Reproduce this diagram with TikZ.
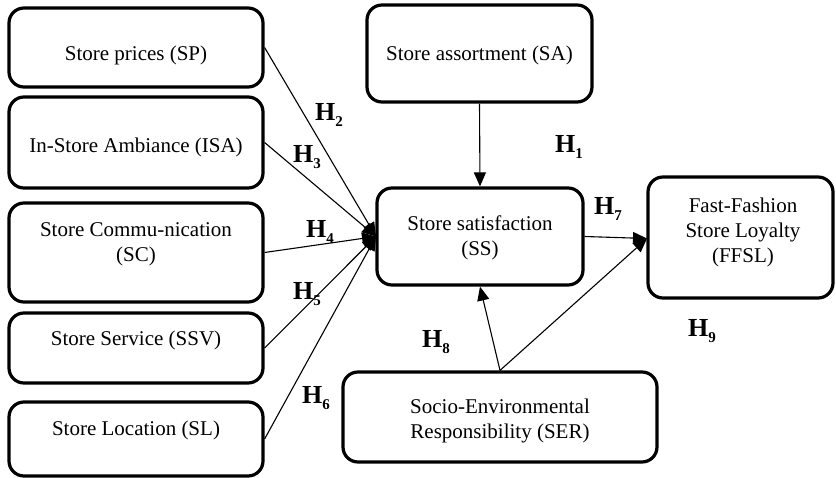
\documentclass[tikz,border=0pt]{standalone}
\usepackage{fontspec}
\setmainfont{Liberation Serif}
\usetikzlibrary{arrows.meta}
\newcommand{\Hyp}[1]{\textbf{H\raisebox{-0.5ex}{\fontsize{15}{15}\selectfont #1}}}
\tikzset{
  boxnode/.style={draw, line width=3.2pt, rounded corners=15pt, inner sep=0pt},
  txt/.style={font=\fontsize{21}{25}\selectfont, align=center, inner sep=0pt},
  hlab/.style={font=\fontsize{26}{26}\selectfont, inner sep=0pt},
  conn/.style={line width=1.1pt, -{Triangle[length=14pt, width=12pt]}},
}
\begin{document}
\begin{tikzpicture}[x=1pt,y=-1pt]
\useasboundingbox (0,0) rectangle (836,478);
% boxes
\node[boxnode, minimum width=254pt, minimum height=79pt] (sp) at (136,47.5) {};
\node[boxnode, minimum width=254pt, minimum height=91pt] (isa) at (136,142.5) {};
\node[boxnode, minimum width=254pt, minimum height=99pt] (sc) at (136,252.5) {};
\node[boxnode, minimum width=254pt, minimum height=70pt] (ssv) at (136,348) {};
\node[boxnode, minimum width=254pt, minimum height=74pt] (sl) at (136,439) {};
\node[boxnode, minimum width=225pt, minimum height=97pt] (sa) at (479.5,53.5) {};
\node[boxnode, minimum width=206pt, minimum height=97pt] (ss) at (480,236.5) {};
\node[boxnode, minimum width=185pt, minimum height=121pt] (ffsl) at (740.5,237.5) {};
\node[boxnode, minimum width=314pt, minimum height=90pt] (ser) at (500,417) {};
% texts
\node[txt] (tsp) at (136,55) {Store prices (SP)};
\node[txt] (tisa) at (136,147) {In-Store Ambiance (ISA)};
\node[txt] (tsc) at (136,244) {Store Commu-nication\\(SC)};
\node[txt] (tssv) at (136,340) {Store Service (SSV)};
\node[txt] (tsl) at (136,430) {Store Location (SL)};
\node[txt] (tsa) at (479.5,55) {Store assortment (SA)};
\node[txt] (tss) at (480,238) {Store satisfaction\\(SS)};
\node[txt] (tffsl) at (743,232) {Fast-Fashion\\Store Loyalty\\(FFSL)};
\node[txt] (tser) at (500,421) {Socio-Environmental\\Responsibility (SER)};
% connectors
\coordinate (sshub) at (376,236.5);
\draw[conn] (sp.east) -- (sshub);
\draw[conn] (isa.east) -- (sshub);
\draw[conn] (sc.east) -- (sshub);
\draw[conn] (ssv.east) -- (sshub);
\draw[conn] (sl.east) -- (sshub);
\draw[conn] (sa.south) -- (ss.north);
\coordinate (ffin) at (647,238.5);
\draw[conn] (ss.east) -- (ffin);
\draw[conn] (ser.north) -- (ss.south);
\draw[conn] (ser.north) -- (ffin);
% hypothesis labels
\node[hlab] (h1) at (569,147) {\Hyp{1}};
\node[hlab] (h2) at (329,115) {\Hyp{2}};
\node[hlab] (h3) at (307,157) {\Hyp{3}};
\node[hlab] (h4) at (320,232) {\Hyp{4}};
\node[hlab] (h5) at (307,294) {\Hyp{5}};
\node[hlab] (h6) at (316,398) {\Hyp{6}};
\node[hlab] (h7) at (608,209) {\Hyp{7}};
\node[hlab] (h8) at (436,342) {\Hyp{8}};
\node[hlab] (h9) at (702,331) {\Hyp{9}};
\end{tikzpicture}
\end{document}
